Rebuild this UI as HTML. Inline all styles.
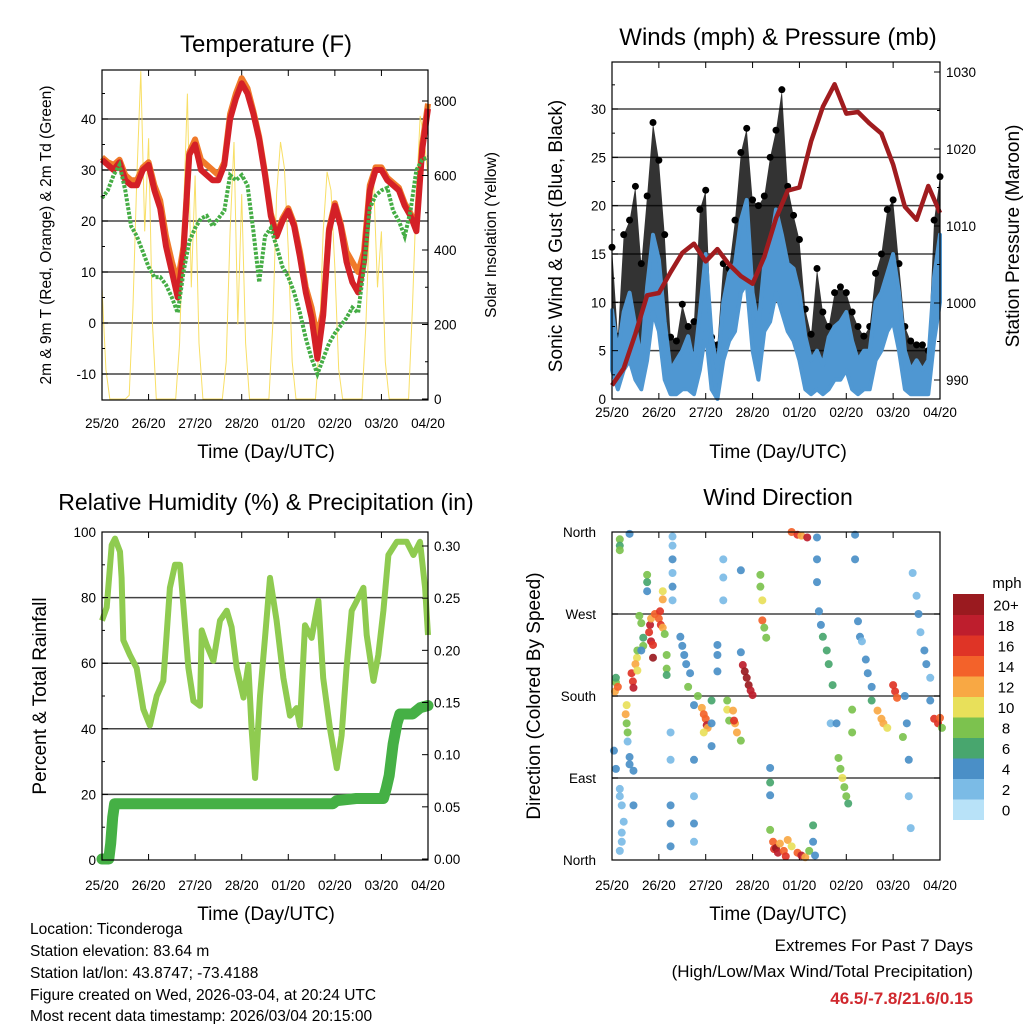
<!DOCTYPE html>
<html><head><meta charset="utf-8"><style>
html,body{margin:0;padding:0;background:#fff;}
svg{display:block;font-family:"Liberation Sans",Arial,sans-serif;}
</style></head><body>
<svg id="c" width="1024" height="1024" viewBox="0 0 1024 1024" xmlns="http://www.w3.org/2000/svg">
<rect width="1024" height="1024" fill="#fff"/>
<g id="tl"></g>
<g id="tr"></g>
<g id="bl"></g>
<g id="br"></g>
<g font-size="15.5" fill="#000">
<text x="30" y="934">Location: Ticonderoga</text>
<text x="30" y="956">Station elevation: 83.64 m</text>
<text x="30" y="978">Station lat/lon: 43.8747; -73.4188</text>
<text x="30" y="1000">Figure created on Wed, 2026-03-04, at 20:24 UTC</text>
<text x="30" y="1021">Most recent data timestamp: 2026/03/04 20:15:00</text>
</g>
<g text-anchor="end">
<text x="973" y="951" font-size="17">Extremes For Past 7 Days</text>
<text x="973" y="977" font-size="17">(High/Low/Max Wind/Total Precipitation)</text>
<text x="973" y="1004" font-size="17" font-weight="bold" fill="#d0282e">46.5/-7.8/21.6/0.15</text>
</g>
</svg>
<script>
// ---------- DATA ----------
const dayLabels = ["25/20","26/20","27/20","28/20","01/20","02/20","03/20","04/20"];
// temperature at 3-hour steps (hours 0..168)
const tempT2 = [32,31,30,31.5,28,27,27,30,31,26,22.5,15,10,5,14,33,35,30,29,28,28,31,40,44,47,45,41,36,29,21,17,20,22,19,13,6,1,-7,1.5,18,23,19,12,8,6,12,26,30,30,28,27,26,23,21,18,34,42];
const tempT9 = [32.5,31.5,31,32,29,28,28,30.5,31.5,27,24,17,12,8,15,33.5,36,32,31,30,29,31.5,41,45,48,46,41.5,36.5,29.5,21.5,17.5,20.5,22.5,19.5,14,7,3,-3,2.5,18.5,23.5,19.5,14,12,10,14,27,30.5,30.5,28.5,27.5,26.5,23.5,21.5,19,35,43];
const tempTd = [24.5,26,29,31,26,19,17,14,11,9,9,7.5,5,2,10,16,18.6,20.5,21,19,20.5,22,29,28,29,27,18,8,17,18.6,15,11,9,6,2,-3,-7,-10,-7,-4,-2,-0.5,1,3,2,11,22.5,25,26,26.5,22,20,17,22,30,32,32.5];
// solar insolation at 2-hour steps
const solar = [300,80,0,0,0,0,0,10,250,600,880,450,700,200,0,
0,0,0,0,0,150,500,820,300,600,150,0,
0,0,0,0,0,100,450,690,200,550,150,0,
0,0,0,0,0,200,550,690,620,400,100,0,
0,0,0,0,0,150,450,610,560,350,80,0,
0,0,0,0,0,200,500,580,300,450,100,0,
0,0,0,0,0,250,550,760,700,600];
// winds at 3-hour steps
const windSpeed = [9.2,4.8,9,11,7.5,4,11.6,17,14.4,8,3,4,5,6.5,3.5,9,15,6.5,3,10,13,14,18.5,20.6,11,7.5,14,15.7,19.6,17,14,13.5,11,6.5,4,5,3.5,6.4,7.5,8,9,6,4,5,5,10,11,13,15,11,5,3,4,3,4,12.6,17];
const windLow = [3,1,3,4,2,1,4,9,7,2,0.5,0.5,1,1,0.5,3,7,1,0,4,6,7,11,12,5,2,7,8,11,9,7,6,4,1,0.5,1,0.5,1,2,2,3,1,0.5,1,1,4,5,7,8,5,1,0.5,0.5,0.5,0.5,6,10];
const windGust = [15.7,6.5,17,18.5,22,14,21,28.6,24.7,17,6.4,6,9.8,7.5,8,19.6,21.6,6.4,5.6,14,13.5,18.5,25.5,28,20.6,20,21,25,27.8,32,22,19,16.5,9.3,6.7,13.5,9,7.5,11,11.6,11,9,7.5,6.5,7.5,13,15,19.6,20.6,14,7.5,6,5.6,5.6,5,18.5,23];
// pressure at 6-hour steps
const pressure = [989.3,991.5,996,1001,1001.3,1004,1006.5,1007.7,1005.4,1007,1005,1003.5,1002.5,1006,1011,1014.6,1015,1021,1025.5,1028.4,1024.6,1024.8,1023.3,1022,1018,1012.5,1010.8,1015.2,1011.7];
// relative humidity
const rhHours = [0,2.4,5,6.7,9.3,10.1,11,14.4,17.9,21.3,24.7,28.2,31.6,33.3,35,37.6,40.2,41.9,44.5,47.1,50.5,51.4,54,57.4,60.8,64.3,66.8,69.4,72.9,75.4,77.1,78.9,81.4,84,86.6,90,93.5,96.9,100.3,102,104.6,108,111.5,114,117.5,121,123.5,126,128.7,131.3,134.7,136.4,139.9,142.4,145,147.6,151.9,157,160.5,163.9,166.5,168];
const rhValues = [73,77,96,98,94,86,67,62.5,58.5,46,41,50,54.6,68.6,83,90,90,78,58.5,48.5,47,70,65.5,60.7,73,76,71,58.5,49.5,59.5,40,25,50,67.7,86,73,55.5,44,46.3,41,71.6,67.7,79,55.5,40,28,38,58.5,76,79,83,68.6,54.6,62.5,76,93,97,97,93,97,83,68.6];
// precipitation
const prHours = [0,3.5,4.5,5.5,6.5,119,121,131,145,146.5,148,150,152,153.5,160,164,168];
const prValues = [0,0,0.015,0.04,0.053,0.053,0.056,0.058,0.058,0.068,0.08,0.11,0.13,0.139,0.139,0.145,0.147];
// wind direction points: hour, degrees, speed
const dirHours = [4,4,4,9,1.5,2,2,3,1,2,4,4,5,5,5,4,6,7.5,7,7.5,8,8,9,9,11,11,10.7,11,10,12.8,12,13,13,16,16,15,15,14,18,18,18,19.5,19,20,21,21,20,22,24.6,24,25,26,26,26,27,28,28,28,31,31,31,31,31,31,30,30,30,30,30,35,36,37,38,40,39,44,42,42,42,42,42,46,47,48,48.5,49,47,51,51,51,54,54,54,57,57,57,59,59,60,62,63,62.5,64,66,66,66,67,68,69,70,71,72,76,76,77,77,78,79,81,81,81,81,82.5,83,84,85,86,88,89,90,92,95,97,99,101,92,95,97,100,103,103,104,105,105,105,106,107,108,110,111,113,112,115,116,117,118,119,120,121,123,123,124.5,124.5,126,127,128,130,131,133,133,136,138,139,141,144,145,146,149,150,151,152,152,153,154,156,157,158,160,161,163,163,165,167,169,168];
const dirDegrees = [352,345,340,358,185,195,200,190,120,100,78,70,60,30,20,10,42,170,160,150,140,130,113,105,98,60,196,189,205,222,215,208,230,244,235,230,260,268,313,305,295,258,250,240,236,222,265,270,273,265,258,255,295,286,248,225,210,203,355,345,330,315,300,285,140,110,60,40,15,245,235,225,215,205,190,180,170,110,70,40,20,167,160,155,148,145,140,175,150,125,236,225,207,330,310,285,175,165,153,164,150,153,140,131,318,228,214,207,200,192,186,181,313,300,285,263,255,244,101,85,71,33,20,12,13,8,18,10,4,22,15,8,5,3,10,360,357,356,354,38,20,5,354,330,305,273,258,245,230,215,192,150,150,112,100,90,80,70,62,165,140,357,330,262,245,240,220,205,190,175,164,155,150,145,192,185,178,135,180,150,110,70,35,315,290,270,250,230,215,200,175,155,150,145,156];
const dirSpeeds = [7,6,7,4,12,7,6,14,4,4,2,2,2,2,2,2,2,10,12,8,7,2,4,4,4,4,16,18,15,9,11,10,8,6,7,4,7,8,7,6,4,17,16,18,16,19,12,13,15,14,16,12,10,12,8,7,7,6,2,2,4,2,4,2,2,2,3,3,4,4,4,4,3,4,7,7,4,3,2,3,2,12,13,14,17,12,10,6,4,4,4,4,4,2,2,2,8,10,8,12,12,16,11,8,3,3,18,20,19,20,18,17,7,8,10,13,8,7,4,6,4,7,14,16,20,18,12,14,16,12,10,14,17,12,8,14,15,12,17,6,4,4,4,4,4,4,4,6,5,6,6,2,3,7,8,9,8,7,6,7,7,4,4,4,4,2,4,4,4,6,12,12,11,10,15,16,14,7,4,4,4,2,2,2,2,4,2,4,4,2,4,16,16,7,14];
const cbLabels = ["0","2","4","6","8","10","12","14","16","18","20+"];
const cbColors = ["#b8e2f8","#7bbbe6","#4a8fc7","#48a66e","#7cc24e","#e8e05a","#f8a844","#f3622a","#df3426","#be1e2d","#9a1a1f"];

// ---------- HELPERS ----------
const NS="http://www.w3.org/2000/svg";
function mk(parent,tag,attrs,text){const e=document.createElementNS(NS,tag);for(const k in attrs)e.setAttribute(k,attrs[k]);if(text!==undefined)e.textContent=text;parent.appendChild(e);return e;}
function lin(d0,d1,r0,r1){return v=>r0+(v-d0)*(r1-r0)/(d1-d0);}
function pts(xs,ys,fx,fy){return xs.map((h,i)=>fx(h).toFixed(1)+","+fy(ys[i]).toFixed(1)).join(" ");}
function stepHours(n,step){const a=[];for(let i=0;i<n;i++)a.push(i*step);return a;}

function frame(g,x0,y0,x1,y1,tickLabelY){
  const fx=lin(0,168,x0,x1);
  const bg=mk(g,"g",{});
  
  
  dayLabels.forEach((lab,i)=>{
    const x=fx(i*24);
    mk(bg,"line",{x1:x,x2:x,y1:y1,y2:y1-6,stroke:"#000","stroke-width":1});
    mk(bg,"line",{x1:x,x2:x,y1:y0,y2:y0+6,stroke:"#000","stroke-width":1});
    const t=mk(bg,"text",{x:x,y:tickLabelY,"font-size":13.5,"text-anchor":"middle"},lab);
    
    
  });
  return fx;
}
function border(g,x0,y0,x1,y1){const r=mk(g,"rect",{x:x0,y:y0,width:x1-x0,height:y1-y0,fill:"none",stroke:"#000","stroke-width":1.2});}
function grid(g,x0,x1,ys){ys.forEach(y=>mk(g,"line",{x1:x0,x2:x1,y1:y,y2:y,stroke:"#222","stroke-width":1.5,opacity:0.85}));}
function yTicks(g,x,side,vals,fy,labels,minor,fs){
  vals.forEach((v,i)=>{const y=fy(v);
    mk(g,"line",{x1:x,x2:x+(side<0?6:-6),y1:y,y2:y,stroke:"#000"});
    const t=mk(g,"text",{x:x+(side<0?-6:6),y:y+5,"font-size":fs||13.5,"text-anchor":side<0?"end":"start"},labels[i]);
    
    
  });
  (minor||[]).forEach(v=>{const y=fy(v);mk(g,"line",{x1:x,x2:x+(side<0?3:-3),y1:y,y2:y,stroke:"#000"});});
}
function label(g,x,y,txt,fs,rot,name){const a={x:x,y:y,"font-size":fs,"text-anchor":"middle"};if(rot)a.transform="rotate("+rot+" "+x+" "+y+")";const t=mk(g,"text",a,txt);return t;}

// ---------- PANEL 1: Temperature ----------
(function(){
  const g=document.getElementById("tl");
  const X0=102,Y0=70,X1=428,Y1=400;
  const fy=lin(0,-10,323,374);
  const fs=lin(0,800,399,101);
  grid(g,X0,X1,[40,30,20,10,0,-10].map(fy));
  const fx=frame(g,X0,Y0,X1,Y1,428);
  const sl=mk(g,"polyline",{points:pts(stepHours(solar.length,2),solar,fx,fs),fill:"none",stroke:"#f7dc55","stroke-width":1,opacity:0.9});
  
  
  const h3=stepHours(tempT2.length,3);
  const o=mk(g,"polyline",{points:pts(h3,tempT9,fx,fy),fill:"none",stroke:"#f07a2a","stroke-width":6,"stroke-linejoin":"round"});
  
  
  const r=mk(g,"polyline",{points:pts(h3,tempT2,fx,fy),fill:"none",stroke:"#d42027","stroke-width":6,"stroke-linejoin":"round"});
  
  
  const d=mk(g,"polyline",{points:pts(h3,tempTd,fx,fy),fill:"none",stroke:"#45ad45","stroke-width":4,"stroke-dasharray":"3 1.5"});
  
  
  border(g,X0,Y0,X1,Y1);
  yTicks(g,X0,-1,[40,30,20,10,0,-10],fy,["40","30","20","10","0","-10"],[45,35,25,15,5,-5]);
  yTicks(g,X1,1,[0,200,400,600,800],fs,["0","200","400","600","800"],[100,300,500,700]);
  label(g,266,52,"Temperature (F)",24,0,"temperature-title");
  label(g,266,458,"Time (Day/UTC)",19,0,"x-axis-title");
  label(g,51,235,"2m & 9m T (Red, Orange) & 2m Td (Green)",15.5,-90,"y-axis-title-left");
  label(g,496,235,"Solar Insolation (Yellow)",15.5,-90,"y-axis-title-right");
})();

// ---------- PANEL 2: Winds & Pressure ----------
(function(){
  const g=document.getElementById("tr");
  const X0=612,Y0=62,X1=940,Y1=399;
  const fy=lin(0,30,399,109);
  const fp=lin(1000,1030,303,72);
  grid(g,X0,X1,[5,10,15,20,25,30].map(fy));
  const fx=frame(g,X0,Y0,X1,Y1,417);
  const h3=stepHours(windSpeed.length,3);
  const gustArea=pts(h3,windGust,fx,fy)+" "+pts(h3.slice().reverse(),windSpeed.slice().reverse(),fx,fy);
  const ga=mk(g,"polygon",{points:gustArea,fill:"#000","fill-opacity":0.8,stroke:"none"});
  
  
  h3.forEach((h,i)=>{const c=mk(g,"circle",{cx:fx(h),cy:fy(windGust[i]),r:3.5,fill:"#000"});
    
    });
  const blueArea=pts(h3,windSpeed,fx,fy)+" "+pts(h3.slice().reverse(),windLow.slice().reverse(),fx,fy);
  const ba=mk(g,"polygon",{points:blueArea,fill:"#4f97d2",stroke:"#4f97d2","stroke-width":4,"stroke-linejoin":"round"});
  
  
  const p=mk(g,"polyline",{points:pts(stepHours(pressure.length,6),pressure,fx,fp),fill:"none",stroke:"#a01c1f","stroke-width":4.5,"stroke-linejoin":"round"});
  
  
  border(g,X0,Y0,X1,Y1);
  yTicks(g,X0,-1,[0,5,10,15,20,25,30],fy,["0","5","10","15","20","25","30"],[2.5,7.5,12.5,17.5,22.5,27.5,32.5]);
  yTicks(g,X1,1,[990,1000,1010,1020,1030],fp,["990","1000","1010","1020","1030"],[995,1005,1015,1025]);
  label(g,778,45,"Winds (mph) & Pressure (mb)",24,0,"winds-title");
  label(g,778,458,"Time (Day/UTC)",19,0,"x-axis-title");
  label(g,562,236,"Sonic Wind & Gust (Blue, Black)",19,-90,"y-axis-title-left");
  label(g,1019,236,"Station Pressure (Maroon)",19,-90,"y-axis-title-right");
})();

// ---------- PANEL 3: RH & Precip ----------
(function(){
  const g=document.getElementById("bl");
  const X0=102,Y0=532,X1=428,Y1=860;
  const fy=lin(0,100,860,532);
  const fr=lin(0,0.30,859,546);
  grid(g,X0,X1,[20,40,60,80].map(fy));
  const fx=frame(g,X0,Y0,X1,Y1,890);
  const rh=mk(g,"polyline",{points:pts(rhHours,rhValues,fx,fy),fill:"none",stroke:"#8fcb50","stroke-width":6,"stroke-linejoin":"round"});
  
  
  const pr=mk(g,"polyline",{points:pts(prHours,prValues,fx,fr),fill:"none",stroke:"#45b045","stroke-width":11,"stroke-linejoin":"round","stroke-linecap":"round"});
  
  
  border(g,X0,Y0,X1,Y1);
  yTicks(g,X0,-1,[0,20,40,60,80,100],fy,["0","20","40","60","80","100"],[10,30,50,70,90]);
  yTicks(g,X1,1,[0,0.05,0.10,0.15,0.20,0.25,0.30],fr,["0.00","0.05","0.10","0.15","0.20","0.25","0.30"],[]);
  label(g,266,510,"Relative Humidity (%) & Precipitation (in)",23,0,"humidity-title");
  label(g,266,920,"Time (Day/UTC)",19,0,"x-axis-title");
  label(g,46,696,"Percent & Total Rainfall",19,-90,"y-axis-title-left");
})();

// ---------- PANEL 4: Wind direction ----------
(function(){
  const g=document.getElementById("br");
  const X0=612,Y0=532,X1=940,Y1=860;
  const fy=lin(0,360,860,532);
  grid(g,X0,X1,[90,180,270].map(fy));
  const fx=frame(g,X0,Y0,X1,Y1,890);
  function col(s){let i=Math.round(s/2);if(i>10)i=10;if(i<0)i=0;return cbColors[i];}
  dirHours.forEach((h,i)=>{
    const c=mk(g,"circle",{cx:fx(h),cy:fy(dirDegrees[i]),r:4,fill:col(dirSpeeds[i]),opacity:0.92});
    
    
  });
  border(g,X0,Y0,X1,Y1);
  const dl=["North","East","South","West","North"];
  dl.forEach((l,i)=>{const y=fy(i*90);
    mk(g,"line",{x1:X0,x2:X0+6,y1:y,y2:y,stroke:"#000"});
    mk(g,"line",{x1:X1,x2:X1-6,y1:y,y2:y,stroke:"#000"});
    const t=mk(g,"text",{x:596,y:y+5,"font-size":13.5,"text-anchor":"end"},l);
    
    });
  label(g,778,505,"Wind Direction",23,0,"wind-direction-title");
  label(g,778,920,"Time (Day/UTC)",19,0,"x-axis-title");
  label(g,540,696,"Direction (Colored By Speed)",19,-90,"y-axis-title-left");
  const cb=mk(g,"g",{});
  
  
  const bh=20.5, top=594;
  cbColors.forEach((c,i)=>{const y=top+(10-i)*bh;
    const r=mk(cb,"rect",{x:953,y:y,width:31,height:bh+0.5,fill:c});
    
    
    const t=mk(cb,"text",{x:1006,y:y+bh/2+6,"font-size":15,"text-anchor":"middle"},cbLabels[i]);
    
    
  });
  const u=mk(cb,"text",{x:1007,y:588,"font-size":15,"text-anchor":"middle"},"mph");
  
  
})();
</script>
</body></html>
